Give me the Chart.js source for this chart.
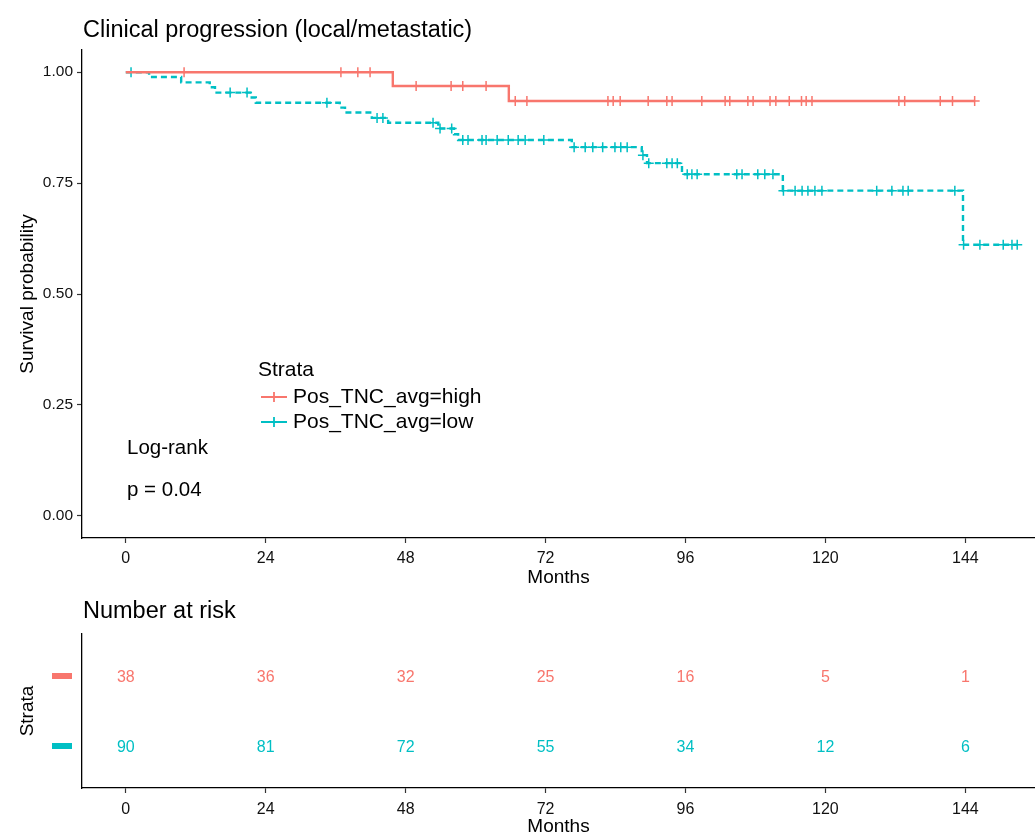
<!DOCTYPE html>
<html>
<head>
<meta charset="utf-8">
<script src="https://cdn.jsdelivr.net/npm/chart.js@4.4.0/dist/chart.umd.min.js"></script>
<style>
  html, body { margin: 0; padding: 0; background: #fff; }
  #wrap { position: relative; width: 1035px; height: 836px; }
  #survChart { position: absolute; left: 0; top: 0; }
  #riskChart { position: absolute; left: 0; top: 590px; }
</style>
</head>
<body>
<div id="wrap">
  <canvas id="survChart" width="1035" height="590"></canvas>
  <canvas id="riskChart" width="1035" height="246"></canvas>
</div>
<script>
// Kaplan-Meier steps (months, survival after the step)
const highTimes = [0, 45.8, 65.7, 145.6];
const highSurv = [1, 0.969, 0.935, 0.935];
const highCensor = [10.0, 36.9, 39.8, 41.9, 49.8, 55.8, 57.8, 61.8, 66.8, 68.8, 82.7, 83.6, 84.8, 89.6,
    92.8, 93.7, 98.8, 102.8, 103.6, 106.7, 107.6, 110.5, 111.5, 113.8, 115.9, 116.7, 117.7, 132.6,
    133.6, 139.7, 141.8, 145.6];

const lowTimes = [0, 4.0, 9.5, 14.4, 15.3, 21.6, 22.3, 36.7, 37.6, 42.2, 45.0, 53.6, 56.3, 57.0,
    76.5, 88.5, 89.4, 95.4, 112.7, 143.6, 152.9];
const lowSurv = [1, 0.989, 0.977, 0.966, 0.954, 0.943, 0.931, 0.920, 0.909, 0.897, 0.886, 0.873, 0.860, 0.847,
    0.831, 0.813, 0.795, 0.770, 0.733, 0.611, 0.611];
const lowCensor = [0.9, 17.9, 20.8, 34.5, 43.1, 44.1, 52.7, 53.9, 55.9, 57.8, 58.7, 61.1, 61.8, 63.7, 65.6,
    67.3, 68.5, 71.7, 76.9, 78.8, 80.1, 81.8, 83.9, 84.9, 86.0, 88.7, 89.7, 92.8, 93.7, 94.6, 96.3, 97.1,
    98.0, 104.8, 105.7, 108.4, 109.6, 111.0, 112.8, 114.8, 116.0, 117.0, 118.2, 119.4, 128.8, 131.4,
    133.3, 134.2, 142.2, 143.7, 146.5, 150.5, 152.0, 152.9];

// number at risk table
const riskTimes = [0, 24, 48, 72, 96, 120, 144];
const riskHigh = [38, 36, 32, 25, 16, 5, 1];
const riskLow = [90, 81, 72, 55, 34, 12, 6];

const xTicks = [0, 24, 48, 72, 96, 120, 144];
const yTicks = [0, 0.25, 0.5, 0.75, 1];

const RED = '#F8766D';
const CYAN = '#00BFC4';
const FONT = "'Liberation Sans', Arial, sans-serif";
const X_MIN = -7.51, X_MAX = 155.95;

Chart.defaults.font.family = FONT;
Chart.defaults.color = '#000';

function survAt(times, surv, t) {
    let s = surv[0];
    for (let i = 0; i < times.length; i++) {
        if (times[i] <= t) s = surv[i];
    }
    return s;
}

function toPoints(times, surv) {
    return times.map((t, i) => ({ x: t, y: surv[i] }));
}

function censorPoints(censor, times, surv) {
    return censor.map(t => ({ x: t, y: survAt(times, surv, t) }));
}

function xAxis(height, labelPad, titlePad) {
    return {
        type: 'linear',
        min: X_MIN,
        max: X_MAX,
        afterBuildTicks: s => { s.ticks = xTicks.map(v => ({ value: v })); },
        afterFit: s => { s.height = height; },
        ticks: { font: { size: 16 }, color: '#111', padding: labelPad, maxRotation: 0, autoSkip: false },
        grid: { display: true, drawOnChartArea: false, drawTicks: true, tickLength: 5, tickColor: '#333', tickWidth: 1.2 },
        border: { display: true, color: '#000', width: 1.3 },
        title: { display: true, text: 'Months', font: { size: 19, lineHeight: 1 }, color: '#000', padding: { top: 0, bottom: titlePad } }
    };
}

// text, legend and annotations of the survival panel
const survText = {
    id: 'survText',
    afterDraw(chart) {
        const ctx = chart.ctx;
        ctx.save();
        ctx.fillStyle = '#000';
        ctx.textBaseline = 'middle';
        ctx.textAlign = 'left';
        ctx.font = '23.5px ' + FONT;
        ctx.fillText('Clinical progression (local/metastatic)', 83, 31);

        ctx.font = '21px ' + FONT;
        ctx.fillText('Strata', 258, 370);
        const items = [['Pos_TNC_avg=high', RED, 397], ['Pos_TNC_avg=low', CYAN, 422]];
        items.forEach(([label, col, y]) => {
            ctx.strokeStyle = col;
            ctx.lineWidth = 1.8;
            ctx.beginPath();
            ctx.moveTo(261, y); ctx.lineTo(287, y);
            ctx.moveTo(274, y - 5); ctx.lineTo(274, y + 5);
            ctx.stroke();
            ctx.fillStyle = '#000';
            ctx.fillText(label, 293, y);
        });

        ctx.font = '20.5px ' + FONT;
        ctx.fillText('Log-rank', 127, 448);
        ctx.fillText('p = 0.04', 127, 490);
        ctx.restore();
    }
};

new Chart(document.getElementById('survChart'), {
    type: 'line',
    data: {
        datasets: [
            {
                label: 'Pos_TNC_avg=high',
                data: toPoints(highTimes, highSurv),
                borderColor: RED, borderWidth: 2.4, stepped: 'before',
                pointRadius: 0, fill: false
            },
            {
                label: 'Pos_TNC_avg=low',
                data: toPoints(lowTimes, lowSurv),
                borderColor: CYAN, borderWidth: 2.4, borderDash: [6, 4], stepped: 'before',
                pointRadius: 0, fill: false
            },
            {
                label: 'high censored',
                data: censorPoints(highCensor, highTimes, highSurv),
                showLine: false, pointStyle: 'cross', pointRadius: 5,
                borderColor: RED, pointBorderWidth: 1.5
            },
            {
                label: 'low censored',
                data: censorPoints(lowCensor, lowTimes, lowSurv),
                showLine: false, pointStyle: 'cross', pointRadius: 5,
                borderColor: CYAN, pointBorderWidth: 1.5
            }
        ]
    },
    options: {
        responsive: false,
        animation: false,
        events: [],
        layout: { autoPadding: false, padding: { top: 50, right: 0, bottom: 0, left: 0 } },
        plugins: { legend: { display: false }, tooltip: { enabled: false } },
        scales: {
            x: xAxis(52, 6, 3),
            y: {
                type: 'linear',
                min: -0.05,
                max: 1.05,
                afterBuildTicks: s => { s.ticks = yTicks.map(v => ({ value: v })); },
                afterFit: s => { s.width = 82; },
                ticks: { font: { size: 15.5 }, color: '#111', padding: 4, callback: v => v.toFixed(2) },
                grid: { display: true, drawOnChartArea: false, drawTicks: true, tickLength: 5, tickColor: '#333', tickWidth: 1.2 },
                border: { display: true, color: '#000', width: 1.3 },
                title: { display: true, text: 'Survival probability', font: { size: 19, lineHeight: 1 }, color: '#000', padding: { top: 18, bottom: 0 } }
            }
        }
    },
    plugins: [survText]
});

// risk table numbers and strata colour keys
const riskText = {
    id: 'riskText',
    afterDraw(chart) {
        const ctx = chart.ctx;
        const xs = chart.scales.x, ys = chart.scales.y;
        ctx.save();
        ctx.fillStyle = '#000';
        ctx.textBaseline = 'middle';
        ctx.textAlign = 'left';
        ctx.font = '23.5px ' + FONT;
        ctx.fillText('Number at risk', 83, 22);

        const rows = [[riskHigh, RED, 2], [riskLow, CYAN, 1]];
        ctx.font = '16px ' + FONT;
        ctx.textAlign = 'center';
        rows.forEach(([vals, col, row]) => {
            const y = ys.getPixelForValue(row);
            ctx.fillStyle = col;
            ctx.fillRect(52, y - 3, 20, 6);
            vals.forEach((v, i) => {
                ctx.fillText(String(v), xs.getPixelForValue(riskTimes[i]), y + 2);
            });
        });
        ctx.restore();
    }
};

new Chart(document.getElementById('riskChart'), {
    type: 'scatter',
    data: { datasets: [] },
    options: {
        responsive: false,
        animation: false,
        events: [],
        layout: { autoPadding: false, padding: { top: 44, right: 0, bottom: 0, left: 0 } },
        plugins: { legend: { display: false }, tooltip: { enabled: false } },
        scales: {
            x: xAxis(48, 7, 0),
            y: {
                type: 'linear',
                min: 0.4,
                max: 2.6,
                afterBuildTicks: s => { s.ticks = [{ value: 1 }, { value: 2 }]; },
                afterFit: s => { s.width = 82; },
                ticks: { display: false },
                grid: { display: false },
                border: { display: true, color: '#000', width: 1.3 },
                title: { display: true, text: 'Strata', font: { size: 19, lineHeight: 1 }, color: '#000', padding: { top: 18, bottom: 0 } }
            }
        }
    },
    plugins: [riskText]
});
</script>
</body>
</html>
